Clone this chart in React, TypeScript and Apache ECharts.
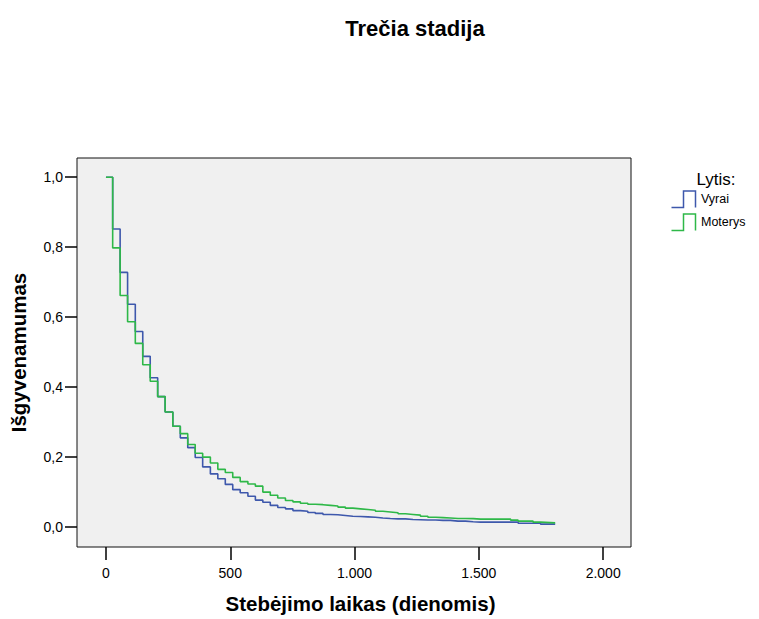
import React, { useEffect, useRef } from "react";
import * as echarts from "echarts";

const TITLE = "Trečia stadija";
const X_TITLE = "Stebėjimo laikas (dienomis)";
const Y_TITLE = "Išgyvenamumas";
const LEGEND_TITLE = "Lytis:";
const SERIES_NAMES = ["Vyrai", "Moterys"];
const SERIES_COLORS = ["#3E58AC", "#2EB848"];

const X_TICKS = [0, 500, 1000, 1500, 2000];
const Y_TICKS = [0, 0.2, 0.4, 0.6, 0.8, 1.0];

// step times (days); last value is the end of follow-up
const DAYS = [
  0, 27, 57, 87, 118, 148, 178, 208, 238, 269, 299, 329, 359, 389, 420, 450, 480, 510, 540, 571,
  601, 631, 661, 691, 722, 752, 782, 812, 842, 873, 903, 933, 963, 993, 1024, 1054, 1084, 1114,
  1144, 1175, 1205, 1235, 1265, 1295, 1326, 1356, 1386, 1416, 1446, 1477, 1507, 1537, 1567, 1597,
  1628, 1658, 1688, 1718, 1748, 1807,
];

const VYRAI = [
  1.0, 0.852, 0.728, 0.637, 0.559, 0.488, 0.427, 0.373, 0.329, 0.288, 0.255, 0.227, 0.199, 0.172,
  0.152, 0.138, 0.122, 0.107, 0.098, 0.088, 0.077, 0.071, 0.062, 0.056, 0.052, 0.047, 0.045,
  0.0415, 0.039, 0.036, 0.035, 0.033, 0.031, 0.03, 0.029, 0.028, 0.026, 0.0245, 0.0235, 0.0235,
  0.0215, 0.021, 0.02, 0.02, 0.019, 0.019, 0.017, 0.017, 0.015, 0.014, 0.014, 0.014, 0.014, 0.014,
  0.014, 0.011, 0.011, 0.011, 0.0085, 0.0085,
];

const MOTERYS = [
  1.0, 0.798, 0.662, 0.587, 0.525, 0.464, 0.417, 0.373, 0.329, 0.288, 0.267, 0.236, 0.211, 0.2,
  0.183, 0.165, 0.156, 0.142, 0.13, 0.123, 0.117, 0.1, 0.091, 0.083, 0.076, 0.072, 0.068, 0.065,
  0.064, 0.062, 0.06, 0.057, 0.054, 0.052, 0.05, 0.048, 0.045, 0.043, 0.041, 0.038, 0.036, 0.034,
  0.031, 0.028, 0.027, 0.026, 0.0245, 0.0245, 0.024, 0.0226, 0.0226, 0.0226, 0.0226, 0.0226,
  0.0198, 0.017, 0.017, 0.014, 0.012, 0.012,
];

const FONT = "'Liberation Sans', Arial, Helvetica, sans-serif";

function fmtX(v: number): string {
  if (v >= 1000) {
    const th = Math.floor(v / 1000);
    const rest = String(Math.round(v % 1000)).padStart(3, "0");
    return th + "." + rest;
  }
  return String(Math.round(v));
}

function fmtY(v: number): string {
  return v.toFixed(1).replace(".", ",");
}

export default function App() {
  const ref = useRef<HTMLDivElement>(null);

  useEffect(() => {
    if (!ref.current) return;
    const chart = echarts.init(ref.current, undefined, { renderer: "svg" });

    const toPairs = (vals: number[]) => DAYS.map((d, i) => [d, vals[i]]);

    const legendItem = (idx: number, yTop: number) => {
      const x0 = 671.5;
      const xm = 683.5;
      const x1 = 695.5;
      const yb = yTop + 16.5;
      return [
        {
          type: "polyline",
          shape: {
            points: [
              [x0, yb],
              [xm, yb],
              [xm, yTop],
              [x1, yTop],
              [x1, yb],
            ],
          },
          style: { stroke: SERIES_COLORS[idx], lineWidth: 1.5, fill: "none" },
        },
        {
          type: "text",
          x: 701,
          y: yTop + 8,
          style: {
            text: SERIES_NAMES[idx],
            font: `12.5px ${FONT}`,
            fill: "#000",
            textVerticalAlign: "middle",
          },
        },
      ];
    };

    chart.setOption({
      animation: false,
      grid: {
        left: 76,
        top: 158,
        right: 128,
        bottom: 67,
        show: true,
        backgroundColor: "#f0f0f0",
        borderColor: "#111",
        borderWidth: 1,
        containLabel: false,
      },
      xAxis: {
        type: "value",
        min: -116.5,
        max: 2112,
        name: X_TITLE,
        nameLocation: "middle",
        nameGap: 46,
        nameTextStyle: {
          fontFamily: FONT,
          fontSize: 20.5,
          fontWeight: "bold",
          color: "#000",
          padding: [0, 0, 0, 13],
        },
        axisLine: { show: false, onZero: false },
        splitLine: { show: false },
        axisTick: {
          show: true,
          customValues: X_TICKS,
          length: 13,
          lineStyle: { color: "#000", width: 1.5 },
        },
        axisLabel: {
          customValues: X_TICKS,
          formatter: (v: number) => fmtX(v),
          margin: 19,
          fontFamily: FONT,
          fontSize: 14,
          color: "#000",
        },
      },
      yAxis: {
        type: "value",
        min: -0.057,
        max: 1.055,
        name: Y_TITLE,
        nameLocation: "middle",
        nameGap: 48,
        nameTextStyle: { fontFamily: FONT, fontSize: 20.5, fontWeight: "bold", color: "#000" },
        axisLine: { show: false, onZero: false },
        splitLine: { show: false },
        axisTick: {
          show: true,
          customValues: Y_TICKS,
          length: 12,
          lineStyle: { color: "#000", width: 1.5 },
        },
        axisLabel: {
          customValues: Y_TICKS,
          formatter: (v: number) => fmtY(v),
          margin: 14,
          fontFamily: FONT,
          fontSize: 14,
          color: "#000",
        },
      },
      series: [
        {
          name: SERIES_NAMES[0],
          type: "line",
          step: "end",
          data: toPairs(VYRAI),
          showSymbol: false,
          symbol: "none",
          lineStyle: { color: SERIES_COLORS[0], width: 1.6 },
          itemStyle: { color: SERIES_COLORS[0] },
        },
        {
          name: SERIES_NAMES[1],
          type: "line",
          step: "end",
          data: toPairs(MOTERYS),
          showSymbol: false,
          symbol: "none",
          lineStyle: { color: SERIES_COLORS[1], width: 1.6 },
          itemStyle: { color: SERIES_COLORS[1] },
        },
      ],
      graphic: [
        {
          type: "text",
          x: 415,
          y: 28,
          style: {
            text: TITLE,
            font: `bold 22px ${FONT}`,
            fill: "#000",
            textAlign: "center",
            textVerticalAlign: "middle",
          },
        },
        {
          type: "text",
          x: 716,
          y: 179,
          style: {
            text: LEGEND_TITLE,
            font: `17px ${FONT}`,
            fill: "#000",
            textAlign: "center",
            textVerticalAlign: "middle",
          },
        },
        ...legendItem(0, 191),
        ...legendItem(1, 214),
      ],
    });

    return () => chart.dispose();
  }, []);

  return (
    <div
      ref={ref}
      style={{ position: "fixed", left: 0, top: 0, width: 759, height: 619, background: "#fff" }}
    />
  );
}
